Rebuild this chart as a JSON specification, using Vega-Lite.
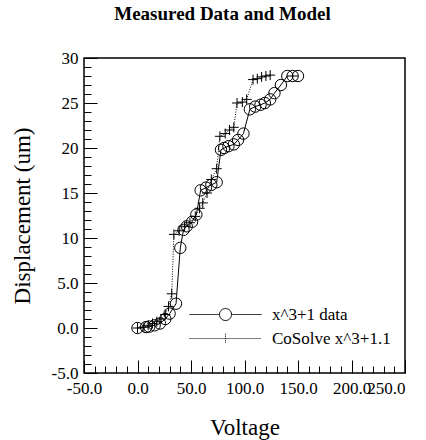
{
  "$schema": "https://vega.github.io/schema/vega-lite/v6.json",
  "width": 321,
  "height": 315,
  "autosize": {"type": "none"},
  "padding": {"left": 84, "top": 58, "right": 21, "bottom": 67},
  "background": "white",
  "title": {"text": "Measured Data and Model", "font": "Liberation Serif", "fontSize": 19, "fontWeight": "bold", "color": "black", "offset": 25, "dx": -22, "anchor": "middle"},
  "config": {"view": {"stroke": "black", "strokeWidth": 1.5}},
  "data": {"values": [
    {"series": "x^3+1 data", "v": 0, "d": 0},
    {"series": "x^3+1 data", "v": 8, "d": 0.1},
    {"series": "x^3+1 data", "v": 11, "d": 0.15},
    {"series": "x^3+1 data", "v": 16, "d": 0.3},
    {"series": "x^3+1 data", "v": 21, "d": 0.5},
    {"series": "x^3+1 data", "v": 26, "d": 1.0},
    {"series": "x^3+1 data", "v": 30, "d": 1.6},
    {"series": "x^3+1 data", "v": 36, "d": 2.7},
    {"series": "x^3+1 data", "v": 40, "d": 8.9},
    {"series": "x^3+1 data", "v": 43, "d": 10.9},
    {"series": "x^3+1 data", "v": 46, "d": 11.3},
    {"series": "x^3+1 data", "v": 51, "d": 11.8},
    {"series": "x^3+1 data", "v": 55, "d": 12.6},
    {"series": "x^3+1 data", "v": 59, "d": 15.3},
    {"series": "x^3+1 data", "v": 64, "d": 15.6},
    {"series": "x^3+1 data", "v": 69, "d": 15.9},
    {"series": "x^3+1 data", "v": 74, "d": 16.2},
    {"series": "x^3+1 data", "v": 78, "d": 19.8},
    {"series": "x^3+1 data", "v": 81, "d": 20.0},
    {"series": "x^3+1 data", "v": 85, "d": 20.2},
    {"series": "x^3+1 data", "v": 90, "d": 20.4},
    {"series": "x^3+1 data", "v": 94, "d": 20.9},
    {"series": "x^3+1 data", "v": 99, "d": 21.6},
    {"series": "x^3+1 data", "v": 105, "d": 24.3},
    {"series": "x^3+1 data", "v": 110, "d": 24.6},
    {"series": "x^3+1 data", "v": 115, "d": 24.8},
    {"series": "x^3+1 data", "v": 119, "d": 25.0},
    {"series": "x^3+1 data", "v": 124, "d": 25.4},
    {"series": "x^3+1 data", "v": 128, "d": 26.1},
    {"series": "x^3+1 data", "v": 134, "d": 27.0},
    {"series": "x^3+1 data", "v": 140, "d": 28},
    {"series": "x^3+1 data", "v": 145, "d": 28},
    {"series": "x^3+1 data", "v": 150, "d": 28},
    {"series": "CoSolve x^3+1.1", "v": 0, "d": 0},
    {"series": "CoSolve x^3+1.1", "v": 6, "d": 0.1},
    {"series": "CoSolve x^3+1.1", "v": 10, "d": 0.3},
    {"series": "CoSolve x^3+1.1", "v": 14, "d": 0.5},
    {"series": "CoSolve x^3+1.1", "v": 18, "d": 0.7},
    {"series": "CoSolve x^3+1.1", "v": 22, "d": 1.0},
    {"series": "CoSolve x^3+1.1", "v": 26, "d": 1.5},
    {"series": "CoSolve x^3+1.1", "v": 29, "d": 2.4},
    {"series": "CoSolve x^3+1.1", "v": 32, "d": 3.8},
    {"series": "CoSolve x^3+1.1", "v": 34, "d": 10.4},
    {"series": "CoSolve x^3+1.1", "v": 39, "d": 10.8},
    {"series": "CoSolve x^3+1.1", "v": 44, "d": 11.3},
    {"series": "CoSolve x^3+1.1", "v": 49, "d": 11.7},
    {"series": "CoSolve x^3+1.1", "v": 54, "d": 12.4},
    {"series": "CoSolve x^3+1.1", "v": 58, "d": 13.3},
    {"series": "CoSolve x^3+1.1", "v": 61, "d": 13.9},
    {"series": "CoSolve x^3+1.1", "v": 65, "d": 15.0},
    {"series": "CoSolve x^3+1.1", "v": 69, "d": 16.5},
    {"series": "CoSolve x^3+1.1", "v": 74, "d": 17.7},
    {"series": "CoSolve x^3+1.1", "v": 77, "d": 21.3},
    {"series": "CoSolve x^3+1.1", "v": 82, "d": 21.6},
    {"series": "CoSolve x^3+1.1", "v": 86, "d": 22.0},
    {"series": "CoSolve x^3+1.1", "v": 90, "d": 22.3},
    {"series": "CoSolve x^3+1.1", "v": 93, "d": 25.0},
    {"series": "CoSolve x^3+1.1", "v": 98, "d": 25.1},
    {"series": "CoSolve x^3+1.1", "v": 102, "d": 25.4},
    {"series": "CoSolve x^3+1.1", "v": 108, "d": 27.6},
    {"series": "CoSolve x^3+1.1", "v": 112, "d": 27.7},
    {"series": "CoSolve x^3+1.1", "v": 116, "d": 27.9},
    {"series": "CoSolve x^3+1.1", "v": 120, "d": 28.0},
    {"series": "CoSolve x^3+1.1", "v": 124, "d": 28.1}
  ]},
  "resolve": {"axis": {"x": "independent", "y": "independent"}},
  "layer": [
    {
      "encoding": {
        "x": {
          "field": "v", "type": "quantitative",
          "scale": {"domain": [-50, 250], "nice": false, "zero": false},
          "axis": {
            "title": "Voltage", "orient": "bottom", "zindex": 1, "offset": -13,
            "values": [-50, 0, 50, 100, 150, 200, 250],
            "tickSize": 13,
            "labelExpr": "datum.value === 200 ? '200.0\u00a0\u00a0' : replace(format(datum.value, '.1f'), '\u2212', '-')",
            "labelAlign": {"condition": {"test": "datum.value === 250", "value": "right"}, "value": "center"},
            "labelFlush": false, "labelOverlap": false, "labelBound": false,
            "labelFont": "Liberation Serif", "labelFontSize": 17, "labelColor": "black", "labelPadding": 7,
            "ticks": true, "tickColor": "black", "tickOpacity": 1, "tickWidth": 1, "domain": false, "grid": false,
            "titleFont": "Liberation Serif", "titleFontSize": 23, "titleFontWeight": "normal", "titleColor": "black", "titlePadding": 20
          }
        },
        "y": {
          "field": "d", "type": "quantitative",
          "scale": {"domain": [-5, 30], "nice": false, "zero": false},
          "axis": {
            "title": "Displacement (um)", "orient": "left", "zindex": 1, "offset": -13,
            "values": [-5, 0, 5, 10, 15, 20, 25, 30],
            "tickSize": 13,
            "labelExpr": "abs(datum.value) >= 10 ? format(datum.value, 'd') : replace(format(datum.value, '.1f'), '\u2212', '-')",
            "labelFlush": false, "labelOverlap": false, "labelBound": false,
            "labelFont": "Liberation Serif", "labelFontSize": 17, "labelColor": "black", "labelPadding": 6,
            "ticks": true, "tickColor": "black", "tickOpacity": 1, "tickWidth": 1, "domain": false, "grid": false,
            "titleFont": "Liberation Serif", "titleFontSize": 23, "titleFontWeight": "normal", "titleColor": "black", "titlePadding": 17
          }
        }
      },
      "layer": [
        {
          "transform": [{"filter": "datum.series === 'x^3+1 data'"}],
          "mark": {"type": "line", "color": "black", "strokeWidth": 1}
        },
        {
          "transform": [{"filter": "datum.series === 'x^3+1 data'"}],
          "mark": {"type": "point", "shape": "circle", "size": 130, "filled": false, "stroke": "black", "strokeWidth": 1, "opacity": 1}
        },
        {
          "transform": [{"filter": "datum.series === 'CoSolve x^3+1.1'"}],
          "mark": {"type": "line", "color": "black", "strokeWidth": 1, "strokeDash": [1, 1.5]}
        },
        {
          "transform": [{"filter": "datum.series === 'CoSolve x^3+1.1'"}],
          "mark": {"type": "point", "shape": "M-1,0H1M0,-1V1", "size": 100, "filled": false, "stroke": "black", "strokeWidth": 1, "opacity": 1}
        }
      ]
    },
    {
      "transform": [{"filter": "datum.v > 9999"}],
      "mark": {"type": "point", "filled": false, "color": "black", "opacity": 1},
      "encoding": {
        "x": {
          "field": "v", "type": "quantitative",
          "scale": {"domain": [-50, 250], "nice": false, "zero": false},
          "axis": {
            "title": null, "orient": "bottom", "zindex": 1, "offset": -7,
            "values": [-40,-30,-20,-10,10,20,30,40,60,70,80,90,110,120,130,140,160,170,180,190,210,220,230,240],
            "tickSize": 7, "labels": false, "ticks": true, "tickColor": "black", "tickOpacity": 1, "tickWidth": 1,
            "domain": false, "grid": false
          }
        },
        "y": {
          "field": "d", "type": "quantitative",
          "scale": {"domain": [-5, 30], "nice": false, "zero": false},
          "axis": {
            "title": null, "orient": "left", "zindex": 1, "offset": -7,
            "values": [-4,-3,-2,-1,1,2,3,4,6,7,8,9,11,12,13,14,16,17,18,19,21,22,23,24,26,27,28,29],
            "tickSize": 7, "labels": false, "ticks": true, "tickColor": "black", "tickOpacity": 1, "tickWidth": 1,
            "domain": false, "grid": false
          }
        },
        "shape": {
          "field": "series", "type": "nominal",
          "scale": {"domain": ["x^3+1 data", "CoSolve x^3+1.1"], "range": ["M-6,0H-1M1,0H6M1,0A1,1,0,1,1,-1,0A1,1,0,1,1,1,0", "M-6,0H6M0,-0.8V0.8"]},
          "legend": {
            "title": null, "orient": "none", "legendX": 133, "legendY": 248, "padding": 0,
            "symbolSize": 144, "symbolStrokeColor": "black", "symbolStrokeWidth": 1, "symbolFillColor": "transparent",
            "labelOffset": 38, "labelFont": "Liberation Serif", "labelFontSize": 17, "labelColor": "black",
            "rowPadding": 6
          }
        },
        "strokeDash": {
          "field": "series", "type": "nominal",
          "scale": {"domain": ["x^3+1 data", "CoSolve x^3+1.1"], "range": [[1, 0], [1, 1]]},
          "legend": {
            "title": null, "orient": "none", "legendX": 133, "legendY": 248, "padding": 0,
            "symbolSize": 144, "symbolStrokeColor": "black", "symbolStrokeWidth": 1, "symbolFillColor": "transparent",
            "labelOffset": 38, "labelFont": "Liberation Serif", "labelFontSize": 17, "labelColor": "black",
            "rowPadding": 6
          }
        }
      }
    }
  ]
}
